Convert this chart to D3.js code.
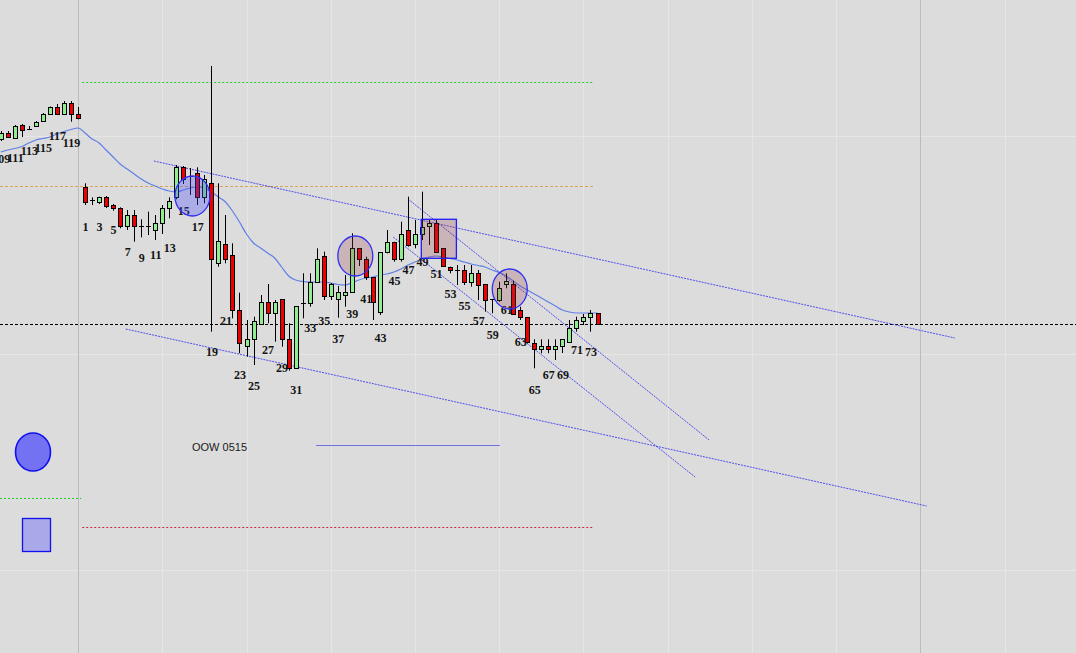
<!DOCTYPE html>
<html><head><meta charset="utf-8">
<script src="https://cdn.jsdelivr.net/npm/d3@7"></script>
<style>html,body{margin:0;padding:0;background:#dcdcdc;overflow:hidden}</style>
</head><body><svg id="c" width="1076" height="653"></svg>
<script>
// ---- data ----
const barIds = [109,110,111,112,113,114,115,116,117,118,119,120,
  1,2,3,4,5,6,7,8,9,10,11,12,13,14,15,16,17,18,19,20,21,22,23,24,25,26,27,28,29,30,
  31,32,33,34,35,36,37,38,39,40,41,42,43,44,45,46,47,48,49,50,51,52,53,54,55,56,57,58,59,60,
  61,62,63,64,65,66,67,68,69,70,71,72,73,74];
const opens = [513.7,520,515,528,524,527.3,532,538.7,545.7,538.7,549.7,539,
  465.7,453,451.3,455.7,448,444.7,427.3,438,427,427,423,429.7,444.7,455.7,485.7,477,480.3,455.7,469.7,389.7,408.7,398,343,307,313.7,329,350.7,339.7,353.7,314,
  284.7,350.3,350.3,371.3,397.3,357.3,353.7,357.7,361.3,404.7,393.7,375.7,341.3,400.7,411.3,393.7,422.7,408.7,418.7,427,429.7,404.7,386.3,383,383,371.3,379.7,368.7,353.7,353,
  369,368.7,343,335.7,310.3,303.7,307,303.7,306.7,310.7,324.7,332.3,335.7,339.7];
const highs = [522,522,528,529,527,532,540,546.5,549,552,552,546,
  469.7,455.7,456.3,457,449,445.7,443,443,433.7,441.3,438,448,455.7,488,487,485,485.7,478,587,469.7,438,409.7,360.3,333,336.3,358,369,353,353.7,329.7,
  347,379.7,379.7,404.7,401.3,370,367,378,419.7,404.7,396.3,375.7,400.7,423,411.3,431.3,456.3,433,461.3,433,433,404.7,386.3,388,388,388,383,368.7,353.7,371.3,
  379.7,372.3,346.3,335.7,313.7,313.7,313.7,313.7,313.7,333,336.3,339,343,339.7];
const lows = [512,515,514,516,523,526,531,538,538,538,531.3,533.7,
  448,448,449,445,442.3,424.7,423,411.3,415.7,418,413,419,434.7,453.7,469,458,448,449.7,321.3,386.3,389.7,334.7,299.7,296.3,288,328,329.7,311.3,306.3,282.3,
  284.7,334.7,346.3,371.3,353,353,335.3,346.3,361.3,387,373,333,338,399.7,391.3,391.3,406.3,404.7,413,408,400.7,387,379.7,368,368,366.3,353,341.3,339.7,351.3,
  364.7,339,333,309.7,284.7,299.7,299.7,293,300,310.7,321.3,328,321.3,329];
const closes = [520.3,516,527,523,524,531.3,539,545.7,538.7,549.7,538.7,534.7,
  451.3,453,455.7,447.3,444.7,427.3,438,427,427,427,430.3,444.7,452.3,485.7,473.7,477,455.7,473.7,393.7,412,393.7,343,310.3,313.7,332.3,350.7,339.7,350.7,314,284.7,
  347,350.3,371.3,393.7,357.3,368.7,360.7,360.7,404.7,393.7,375.7,351.3,400.7,411.3,393.7,418.7,408,418.7,426.3,429.7,400.7,387,383,383,371.3,379.7,368,353,353.7,364.7,
  372.3,339,335.7,311.3,303.7,307,303.7,307,313.7,324.7,333,335.7,339.7,329];
const maValues = [501,503,504.5,506.5,510,513,514.5,516,519,521.5,523.5,525,
  520,514,510,503,496,489,484,479,474,470,467,464,462,461,463,465,466,465,461,456,451,442,431,419,410,405,400,395,386,377,
  373,371.5,371,371,371,370,368.5,368,370,373,375,376,378,379,381,384,388,391,394,396,397,396,394.5,393,391,389,387.5,386,383,380.5,
  377,372,367,363,359,355,351,347,343,341,340,340,340,340];
const labelIds = [109,111,113,115,117,119,1,3,5,7,9,11,13,15,17,19,21,23,25,27,29,31,33,35,37,39,41,43,45,47,49,51,53,55,57,59,61,63,65,67,69,71,73];
const labelLevels = [494,495,502,505,517,510,426,426,423,401,395,398,405,442,426,301,332,278,267,303,285,263,325,332,314,339,354,315,372,383,391,379,359,347,332,318,343,311,263,278,278,303,301];
const gridIdx = [11,23,35,47,59,71,83,95,107,119,131,143];
const gridMajorIdx = [11,131];
const gridLevels = [83,299,517];
const hLineLevels = [571,467,329,155,126,208];
const hLineFrom = [11.6,-2,-2,-2,11.6,44.9];
const hLineTo = [84.4,84.4,160,11.45,84.4,71.1];
const trendFrom = [[21.8,492],[17.8,324],[58,454],[55.9,416]];
const trendTo = [[135.9,315],[131.9,147],[100.9,213],[98.9,176]];
const ellipseCenters = [[27.3,457],[50.5,397],[72.5,364]];
const boxCorners = [[59.9,433.7],[64.9,394.7]];
const noteText = "OOW 0515";

// ---- drawing ----
const W = 1076, H = 653;
const svg = d3.select("#c");
const x = d3.scaleLinear().domain([0,85]).range([0.8,597.5]);
const y = d3.scaleLinear().domain([0,653]).range([653,0]);
const px = v => Math.round(v) + 0.5;

svg.append("rect").attr("width",W).attr("height",H).attr("fill","#dcdcdc");

// grid
svg.selectAll(".gh").data(gridLevels).enter().append("line")
  .attr("x1",0).attr("x2",W).attr("y1",d=>px(y(d))).attr("y2",d=>px(y(d)))
  .attr("stroke","#e6e6e6").attr("stroke-width",1);
svg.selectAll(".gv").data(gridIdx).enter().append("line")
  .attr("x1",d=>px(x(d))).attr("x2",d=>px(x(d))).attr("y1",0).attr("y2",H)
  .attr("stroke",d=>gridMajorIdx.includes(d)?"#bcbcbc":"#e6e6e6").attr("stroke-width",1);

// horizontal reference lines
const hStyles = [
  {c:"#22cc22",d:"2,2"},{c:"#d6a458",d:"3,2"},{c:"#000000",d:"3,2"},
  {c:"#22cc22",d:"2,2"},{c:"#c02840",d:"2,2"},{c:"#7070e0",d:null}];
hLineLevels.forEach((lv,i)=>{
  const l = svg.append("line")
    .attr("x1",Math.max(0,x(hLineFrom[i]))).attr("x2",Math.min(W,x(hLineTo[i])))
    .attr("y1",px(y(lv))).attr("y2",px(y(lv)))
    .attr("stroke",hStyles[i].c).attr("stroke-width",1);
  if (hStyles[i].d) l.attr("stroke-dasharray",hStyles[i].d);
});

// moving average
const maLine = d3.line().x((d,i)=>x(i)).y(d=>y(d)).curve(d3.curveMonotoneX);
svg.append("path").datum(maValues).attr("d",maLine)
  .attr("fill","none").attr("stroke","#5f7fe6").attr("stroke-width",1.2);

// trend lines
trendFrom.forEach((a,i)=>{
  const b = trendTo[i];
  svg.append("line").attr("x1",x(a[0])).attr("y1",y(a[1])).attr("x2",x(b[0])).attr("y2",y(b[1]))
    .attr("stroke","#4040f0").attr("stroke-width",1).attr("stroke-dasharray","2,1").attr("opacity",0.9);
});

// candles
const g = svg.append("g");
barIds.forEach((id,i)=>{
  const cx = Math.round(x(i));
  const o = opens[i], c = closes[i], h = highs[i], l = lows[i];
  g.append("line").attr("x1",cx+0.5).attr("x2",cx+0.5).attr("y1",y(h)).attr("y2",y(l))
    .attr("stroke","#000").attr("stroke-width",1);
  if (o === c) {
    g.append("line").attr("x1",cx-2).attr("x2",cx+3).attr("y1",px(y(o))).attr("y2",px(y(o)))
      .attr("stroke","#000").attr("stroke-width",1);
  } else {
    const top = Math.round(y(Math.max(o,c))), bot = Math.round(y(Math.min(o,c)));
    g.append("rect").attr("x",cx-1.5).attr("y",top+0.5).attr("width",4).attr("height",Math.max(1,bot-top))
      .attr("fill",c>o?"#90ee90":"#ee0000").attr("stroke","#000").attr("stroke-width",1);
  }
});

// labels
svg.selectAll(".lb").data(labelIds).enter().append("text")
  .attr("x",d=>x(barIds.indexOf(d))+0.5).attr("y",(d,i)=>y(labelLevels[i]))
  .attr("dy","0.36em").attr("text-anchor","middle")
  .attr("font-family","'Liberation Serif', 'Times New Roman', serif").attr("font-weight","bold")
  .attr("font-size","12px").attr("fill","#141414").text(d=>d);

// highlight shapes
const fills = ["rgba(70,70,255,0.32)","rgba(150,60,70,0.25)","rgba(150,60,70,0.25)"];
ellipseCenters.forEach((c,i)=>{
  svg.append("ellipse").attr("cx",x(c[0])).attr("cy",y(c[1])).attr("rx",17.5).attr("ry",20)
    .attr("fill",fills[i]).attr("stroke","#2f2ff5").attr("stroke-width",1.3);
});
svg.append("rect").attr("x",x(boxCorners[0][0])).attr("y",y(boxCorners[0][1]))
  .attr("width",x(boxCorners[1][0])-x(boxCorners[0][0])).attr("height",y(boxCorners[1][1])-y(boxCorners[0][1]))
  .attr("fill","rgba(150,60,70,0.25)").attr("stroke","#1e1ef5").attr("stroke-width",1.3);

// legend shapes
svg.append("ellipse").attr("cx",33).attr("cy",452).attr("rx",17.5).attr("ry",19)
  .attr("fill","#7272f2").attr("stroke","#1010f0").attr("stroke-width",1.6);
svg.append("rect").attr("x",22.5).attr("y",518.5).attr("width",28).attr("height",33)
  .attr("fill","#a9a9e9").attr("stroke","#1010f0").attr("stroke-width",1.3);

// note
svg.append("text").attr("x",192).attr("y",447).attr("dy","0.36em")
  .attr("font-family","'Liberation Sans', Arial, sans-serif").attr("font-size","11px")
  .attr("fill","#1a1a1a").text(noteText);
</script>
</body></html>
